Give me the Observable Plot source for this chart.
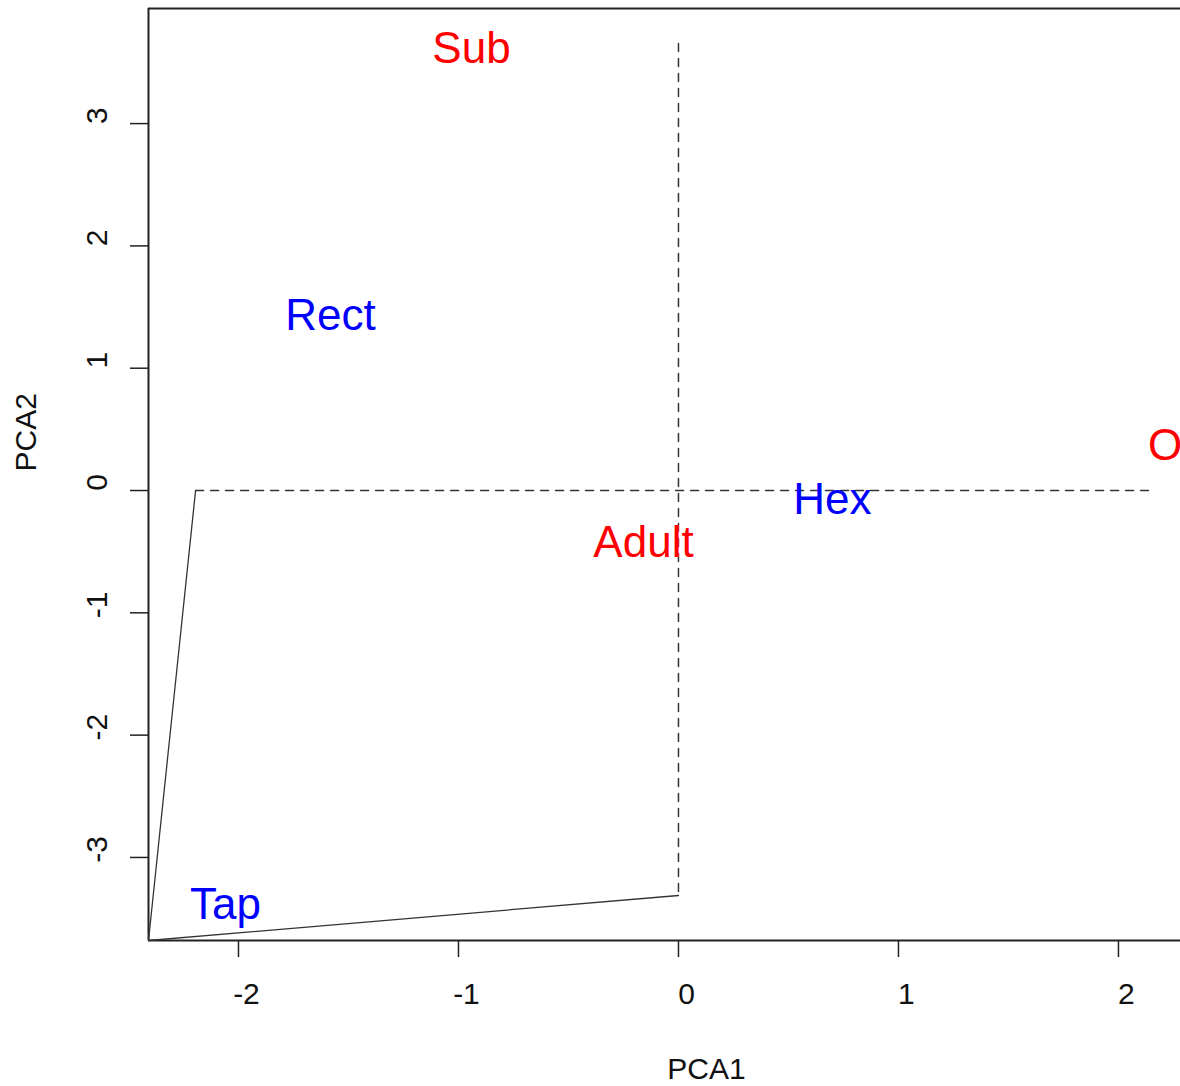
<!DOCTYPE html>
<html>
<head>
<meta charset="utf-8">
<script src="https://cdn.jsdelivr.net/npm/d3@7"></script>
<script src="https://cdn.jsdelivr.net/npm/@observablehq/plot@0.6"></script>
<style>
  html, body { margin: 0; padding: 0; background: #fff; overflow: hidden; }
</style>
</head>
<body>
<div id="chart"></div>
<script>
// Point labels (PCA scores)
const labels = ["Sub", "Rect", "Old", "Hex", "Adult", "Tap"];
const pc1 = [-0.941, -1.582, 2.29, 0.70, -0.159, -2.059];
const pc2 = [3.613, 1.431, 0.368, -0.074, -0.425, -3.384];
const groups = ["age", "shape", "age", "shape", "age", "shape"];

// Solid polyline
const solidX = [-2.195, -2.409, 0];
const solidY = [0, -3.679, -3.311];
// Dashed lines
const dashHX = [-2.195, 2.136];
const dashHY = [0, 0];
const dashVX = [0, 0];
const dashVY = [3.654, -3.311];

// Axis ticks
const xTicks = [-2, -1, 0, 1, 2];
const yTicks = [-3, -2, -1, 0, 1, 2, 3];
const xDomain = [-2.409, 2.282];
const yDomain = [-3.679, 3.941];

const points = labels.map((l, i) => ({label: l, x: pc1[i], y: pc2[i], g: groups[i]}));
const solid = solidX.map((x, i) => ({x, y: solidY[i]}));
const dashH = dashHX.map((x, i) => ({x, y: dashHY[i]}));
const dashV = dashVX.map((x, i) => ({x, y: dashVY[i]}));

const font = "Liberation Sans, Arial, Helvetica, sans-serif";

const chart = Plot.plot({
  width: 1180,
  height: 1086,
  marginLeft: 148,
  marginRight: 0,
  marginTop: 8,
  marginBottom: 146,
  style: {fontFamily: font, background: "white", overflow: "hidden", color: "#111"},
  x: {domain: xDomain, label: null},
  y: {domain: yDomain, label: null},
  color: {domain: ["age", "shape"], range: ["#ff0000", "#0000ff"]},
  marks: [
    // frame (left, top, bottom)
    Plot.ruleX([xDomain[0]], {stroke: "#222", strokeWidth: 2}),
    Plot.ruleY([yDomain[0], yDomain[1]], {stroke: "#222", strokeWidth: 2}),
    // axes ticks
    Plot.axisX({ticks: xTicks, tickSize: 17, tickFormat: () => "", stroke: "#222", strokeWidth: 1.5, label: null}),
    Plot.axisX({ticks: xTicks, tickSize: 0, tickPadding: 42, tickFormat: d => String(d), fontSize: 30, dx: 8, label: null}),
    Plot.axisY({ticks: yTicks, tickSize: 18, tickFormat: () => "", stroke: "#222", strokeWidth: 1.5, label: null}),
    Plot.text(yTicks, {y: d => d, text: d => String(d), frameAnchor: "left", rotate: -90, dx: -51, dy: -8, fontSize: 30, textAnchor: "middle", lineAnchor: "middle", fill: "#111"}),
    // axis titles
    Plot.text(["PCA1"], {text: d => d, frameAnchor: "bottom", dx: 42, dy: 129, fontSize: 30, lineAnchor: "middle", fill: "#111"}),
    Plot.text(["PCA2"], {text: d => d, frameAnchor: "left", rotate: -90, dx: -122, dy: -3, fontSize: 30, lineAnchor: "middle", fill: "#111"}),
    // lines
    Plot.line(solid, {x: "x", y: "y", stroke: "#333", strokeWidth: 1.3}),
    Plot.line(dashH, {x: "x", y: "y", stroke: "#333", strokeWidth: 1.5, strokeDasharray: "8,7"}),
    Plot.line(dashV, {x: "x", y: "y", stroke: "#333", strokeWidth: 1.5, strokeDasharray: "8,7"}),
    // point labels
    Plot.text(points, {x: "x", y: "y", text: "label", fill: "g", fontSize: 44, textAnchor: "middle", lineAnchor: "middle"})
  ]
});
document.getElementById("chart").appendChild(chart);
</script>
</body>
</html>
